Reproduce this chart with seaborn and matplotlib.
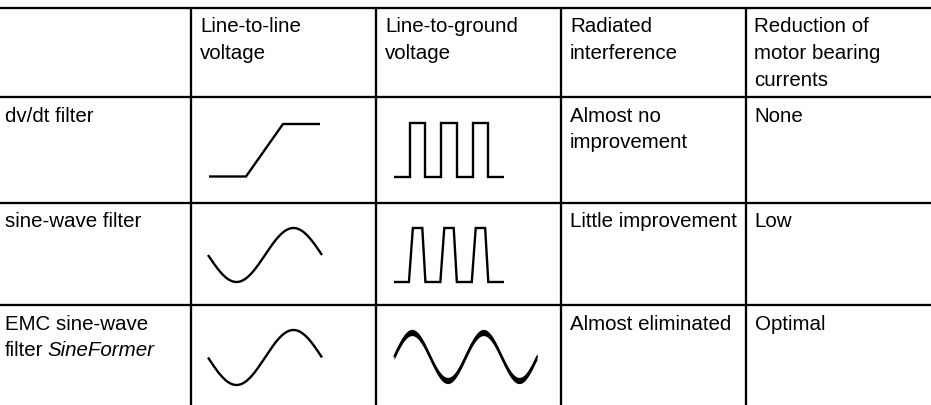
import numpy as np
import matplotlib
matplotlib.use("Agg")
import matplotlib.pyplot as plt
import seaborn as sns

# ---------------- data ----------------
column_headers = ["", "Line-to-line\nvoltage", "Line-to-ground\nvoltage",
                  "Radiated\ninterference", "Reduction of\nmotor bearing\ncurrents"]
filter_names = ["dv/dt filter", "sine-wave filter", "EMC sine-wave\nfilter"]
filter_brand = ["", "", "SineFormer"]          # italic suffix on the last line
radiated_interference = ["Almost no\nimprovement", "Little improvement", "Almost eliminated"]
bearing_current_reduction = ["None", "Low", "Optimal"]

# waveform shapes (time units, normalised level)
ramp_t = [0, 1, 2, 3]
ramp_v = [0, 0, 1, 1]
square_t = [0, 1, 1, 2, 2, 3, 3, 4, 4, 5, 5, 6, 6, 7]
square_v = [0, 0, 1, 1, 0, 0, 1, 1, 0, 0, 1, 1, 0, 0]
trap_t = [0, 0.95, 1.2, 1.8, 2.0, 2.95, 3.2, 3.8, 4.0, 4.95, 5.2, 5.8, 6.0, 7]
trap_v = [0, 0, 1, 1, 0, 0, 1, 1, 0, 0, 1, 1, 0, 0]
sine_cycles = 1        # line-to-line voltage after sine-wave filters (inverted start)
emc_cycles = 2         # line-to-ground voltage after EMC filter
emc_ripple = 0.13      # half width of the ripple band

# ---------------- layout (pixels) ----------------
W, H = 931, 405
col_edges = [0, 191, 376, 561, 745.5, W]
row_edges = [8, 97, 202.5, 305, H]
BASE_OFF = 24.5
LINE_SP = 26.5
FS = 14.8

sns.set_theme(style="white")
plt.rcParams["font.family"] = ["Liberation Sans", "DejaVu Sans"]

fig = plt.figure(figsize=(W / 100, H / 100), dpi=100, facecolor="white")
ax = fig.add_axes([0, 0, 1, 1])
ax.set_xlim(0, W)
ax.set_ylim(H, 0)
ax.axis("off")

LW_GRID = 1.65
for y in row_edges[:-1]:
    ax.plot([0, W], [y, y], color="black", lw=LW_GRID, solid_capstyle="butt")
for x in col_edges[1:-1]:
    ax.plot([x, x], [row_edges[0], H], color="black", lw=LW_GRID, solid_capstyle="butt")


def cell_text(r, c, txt, italic_tail=""):
    pad = 5 if c == 0 else 9
    x = col_edges[c] + pad
    lines = txt.split("\n")
    last = None
    for i, ln in enumerate(lines):
        y = row_edges[r] + BASE_OFF + i * LINE_SP
        last = ax.text(x, y, ln, fontsize=FS, va="baseline", ha="left", color="black")
    if italic_tail:
        ax.annotate(italic_tail, xy=(1, 0), xycoords=last, xytext=(4.2, 0),
                    textcoords="offset pixels", va="bottom", ha="left",
                    fontsize=FS, style="italic", color="black")


for c, h in enumerate(column_headers):
    if h:
        cell_text(0, c, h)
for r in range(3):
    cell_text(r + 1, 0, filter_names[r], filter_brand[r])
    cell_text(r + 1, 3, radiated_interference[r])
    cell_text(r + 1, 4, bearing_current_reduction[r])


def inset(x0, x1, ytop, ybot):
    a = fig.add_axes([x0 / W, 1 - ybot / H, (x1 - x0) / W, (ybot - ytop) / H])
    a.axis("off")
    a.patch.set_alpha(0)
    return a


LW_WAVE = 1.7
kw = dict(color="black", linewidth=LW_WAVE, sort=False, estimator=None,
          legend=False, solid_capstyle="butt", solid_joinstyle="miter", clip_on=False)

# dv/dt filter: line-to-line ramp
a = inset(209, 320, 124, 176.5)
sns.lineplot(x=ramp_t, y=ramp_v, ax=a, **kw)
a.set_xlim(min(ramp_t), max(ramp_t)); a.set_ylim(0, 1); a.axis("off")

# dv/dt filter: line-to-ground square pulses
a = inset(394, 504, 123, 177)
sns.lineplot(x=square_t, y=square_v, ax=a, **kw)
a.set_xlim(min(square_t), max(square_t)); a.set_ylim(0, 1); a.axis("off")

# sine-wave filter: line-to-line sine
for (yt, yb) in [(228, 282), (330, 385)]:
    a = inset(208, 322, yt, yb)
    t = np.linspace(0, 2 * np.pi * sine_cycles, 300)
    sns.lineplot(x=t, y=-np.sin(t), ax=a, **kw)
    a.set_xlim(t[0], t[-1]); a.set_ylim(-1, 1); a.axis("off")

# sine-wave filter: line-to-ground trapezoid pulses
a = inset(394, 504, 228, 282)
sns.lineplot(x=trap_t, y=trap_v, ax=a, **kw)
a.set_xlim(min(trap_t), max(trap_t)); a.set_ylim(0, 1); a.axis("off")

# EMC filter: line-to-ground sine with ripple band
a = inset(394, 537, 332.5, 380.5)
t = np.linspace(0, 2 * np.pi * emc_cycles, 500)
v = np.sin(t)
a.fill_between(t, v - emc_ripple, v + emc_ripple, color="black", lw=0, clip_on=False)
sns.lineplot(x=t, y=v, ax=a, color="black", linewidth=1.0, sort=False,
             estimator=None, legend=False, clip_on=False)
a.set_xlim(t[0], t[-1]); a.set_ylim(-1, 1); a.axis("off")

fig.savefig("out.png", dpi=100, facecolor="white")
